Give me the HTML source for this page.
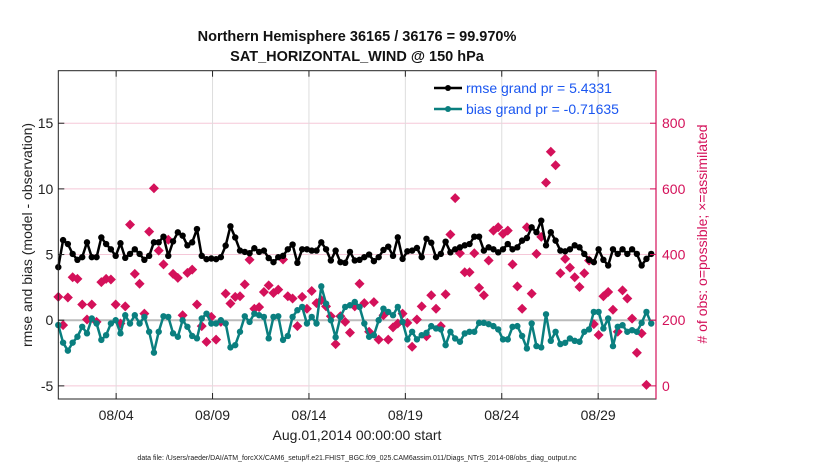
<!DOCTYPE html>
<html><head><meta charset="utf-8"><style>
body{margin:0;background:#fff;}
svg text{font-family:"Liberation Sans",Arial,sans-serif;}
</style></head><body>
<svg id="chart" width="830" height="470" viewBox="0 0 830 470" xmlns="http://www.w3.org/2000/svg">
<rect width="830" height="470" fill="#fff"/>
<g id="grid"></g>
<g id="series"></g>
<rect x="58.3" y="70.7" width="597.7" height="328.3" fill="none" stroke="#222" stroke-width="1"/>
<g id="axes"></g>
<text x="357" y="41" text-anchor="middle" font-size="14.5" font-weight="bold" fill="#111">Northern Hemisphere 36165 / 36176 = 99.970%</text>
<text x="357" y="61" text-anchor="middle" font-size="14.5" font-weight="bold" fill="#111">SAT_HORIZONTAL_WIND @ 150 hPa</text>
<text transform="translate(32,235) rotate(-90)" text-anchor="middle" font-size="14" fill="#222">rmse and bias (model - observation)</text>
<text transform="translate(707,234) rotate(-90)" text-anchor="middle" font-size="14" fill="#d4115a"># of obs: o=possible; ×=assimilated</text>
<text x="357" y="440" text-anchor="middle" font-size="14" fill="#222">Aug.01,2014 00:00:00 start</text>
<text x="357" y="460" text-anchor="middle" font-size="7" fill="#222">data file: /Users/raeder/DAI/ATM_forcXX/CAM6_setup/f.e21.FHIST_BGC.f09_025.CAM6assim.011/Diags_NTrS_2014-08/obs_diag_output.nc</text>
<g>
<line x1="434" y1="88" x2="462" y2="88" stroke="#000" stroke-width="2.5"/>
<circle cx="448" cy="88" r="3" fill="#000"/>
<text x="466" y="93" font-size="14" fill="#1a56f0">rmse grand pr = 5.4331</text>
<line x1="434" y1="109" x2="462" y2="109" stroke="#0a7f7f" stroke-width="2.5"/>
<circle cx="448" cy="109" r="3" fill="#0a7f7f"/>
<text x="466" y="114" font-size="14" fill="#1a56f0">bias grand pr = -0.71635</text>
</g>
</svg>
<script>
const rmse=[4.04,6.1,5.8,5.05,4.6,4.8,5.93,4.8,4.8,6.3,5.8,5.4,4.9,5.86,4.75,5.05,5.4,5.05,4.6,4.9,5.93,5.93,6.36,4.9,6.0,6.69,6.44,5.7,5.93,6.94,4.9,4.65,
4.7,4.65,4.8,5.68,7.15,6.3,5.3,5.2,5.1,5.48,5.2,5.3,4.73,4.42,4.8,4.9,5.4,5.76,4.37,5.4,5.4,5.3,5.3,5.93,5.4,4.55,5.3,4.42,4.37,5.2,4.55,4.6,
4.8,5.0,4.5,4.8,5.35,5.6,4.9,6.31,4.67,5.25,5.3,5.5,4.8,6.2,5.9,4.8,5.05,5.98,5.17,5.4,5.55,5.7,5.8,6.36,6.36,5.3,5.55,5.4,5.17,5.4,5.8,
5.4,5.55,6.06,6.26,7.07,6.7,7.58,5.7,6.7,6.06,5.3,5.25,5.4,5.7,5.55,5.05,4.6,4.42,5.4,4.6,4.17,5.4,5.05,5.4,5.05,5.4,5.05,4.17,4.67,5.05];
const bias=[-0.37,-1.71,-2.32,-1.71,-1.26,-0.5,-1.0,0.13,-0.25,-1.5,-1.14,-0.25,0,-1.0,0.38,-0.25,0.38,-0.25,0.25,-0.88,-2.47,-0.88,0.3,0.25,-1.0,-1.26,0,-0.5,-1.2,-1.38,0.13,0.5,
-0.25,-0.25,0,-0.25,-2.07,-1.9,-0.88,0.3,-0.13,0.5,0.38,0.25,-1.38,0.25,0.3,-1.5,-1.2,0.25,0.76,1.01,-0.25,0.25,-0.25,2.58,1.26,0,-1.3,0.25,1.01,1.14,1.39,1.01,
-0.25,-1.26,-1.14,0,0.88,0.63,0.38,1.01,-0.13,-1.46,-0.88,-1.46,-1.14,-0.96,-0.45,-0.63,-0.7,-1.9,-0.88,-1.39,-1.64,-1.01,-0.88,-0.88,-0.2,-0.2,-0.3,-0.45,-0.7,-1.46,-1.46,
-0.5,-0.45,-1.2,-2.15,-0.25,-1.97,-2.07,0.45,-1.57,-0.88,-1.82,-1.72,-1.39,-1.57,-1.64,-0.88,-0.7,0.63,0.63,-0.63,0.13,-1.97,-0.5,-0.38,-0.88,-0.76,-0.88,-0.2,0.63,-0.25];
const obsCount=[271,185,269,331,326,248,202,248,195,316,326,324,248,190,242,491,341,311,220,470,602,412,370,445,341,329,215,344,354,248,182,134,
210,141,195,281,251,271,273,309,384,235,240,286,306,283,293,385,273,266,182,271,235,289,252,261,242,212,127,212,195,162,
242,311,252,165,255,141,215,141,178,190,220,192,119,202,242,151,276,235,182,279,461,572,404,346,346,404,299,276,382,473,483,
463,473,370,303,235,483,281,402,454,619,713,672,343,387,360,331,301,343,382,188,155,273,286,232,165,291,266,205,101,160,3];
const xTickLabels=["08/04","08/09","08/14","08/19","08/24","08/29"];
const xTickDays=[3,8,13,18,23,28];
const yLeftTicks=[-5,0,5,10,15];
const yRightTicks=[0,200,400,600,800];
const stepDays=0.248;

const L=58.3,R=656,T=70.7,B=399;
const xs=d=>L+(d/31)*(R-L);
const yl=v=>T+(19-v)/25*(B-T);
const yr=v=>T+(960-v)/1000*(B-T);
const NS="http://www.w3.org/2000/svg";
function mk(tag,attrs,parent){const e=document.createElementNS(NS,tag);for(const k in attrs)e.setAttribute(k,attrs[k]);parent.appendChild(e);return e;}
const grid=document.getElementById('grid'),axes=document.getElementById('axes'),ser=document.getElementById('series');

yLeftTicks.forEach(v=>{
  const g=mk('line',{x1:L,x2:R,y1:yl(v),y2:yl(v),stroke:v===0?'#bbb':'#f5c8d8','stroke-width':v===0?2:1},grid);
  
  
  const t=mk('line',{x1:L,x2:L+6,y1:yl(v),y2:yl(v),stroke:'#222'},axes);
  
  
  const tx=mk('text',{x:L-5,y:yl(v)+5,'text-anchor':'end','font-size':14,fill:'#222'},axes);
  tx.textContent=v;
  
  
});
yRightTicks.forEach(v=>{
  const t=mk('line',{x1:R-6,x2:R,y1:yr(v),y2:yr(v),stroke:'#d4115a'},axes);
  
  
  const tx=mk('text',{x:R+6,y:yr(v)+5,'font-size':14,fill:'#d4115a'},axes);
  tx.textContent=v;
  
  
});
const ra=mk('line',{x1:R,x2:R,y1:T,y2:B,stroke:'#d4115a','stroke-width':1.2},axes);


xTickDays.forEach((d,i)=>{
  const g=mk('line',{x1:xs(d),x2:xs(d),y1:T,y2:B,stroke:'#ddd'},grid);
  
  
  const t=mk('line',{x1:xs(d),x2:xs(d),y1:B-6,y2:B,stroke:'#222'},axes);
  
  
  const t2=mk('line',{x1:xs(d),x2:xs(d),y1:T,y2:T+6,stroke:'#222'},axes);
  
  
  const tx=mk('text',{x:xs(d),y:B+21,'text-anchor':'middle','font-size':14,fill:'#222'},axes);
  tx.textContent=xTickLabels[i];
  
  
});
obsCount.forEach((v,i)=>{
  const x=xs(i*stepDays),y=yr(v),s=5;
  const p=mk('polygon',{points:`${x},${y-s} ${x+s},${y} ${x},${y+s} ${x-s},${y}`,fill:'#d4115a'},ser);
  
  
});
function line(arr,color,name){
  const pts=arr.map((v,i)=>xs(i*stepDays).toFixed(1)+','+yl(v).toFixed(1)).join(' ');
  const pl=mk('polyline',{points:pts,fill:'none',stroke:color,'stroke-width':2.5,'stroke-linejoin':'round'},ser);
  
  
  arr.forEach((v,i)=>{
    const c=mk('circle',{cx:xs(i*stepDays),cy:yl(v),r:3.2,fill:color},ser);
    
    
  });
}
line(bias,'#0a7f7f','bias');
line(rmse,'#000','rmse');
</script>
</body></html>
